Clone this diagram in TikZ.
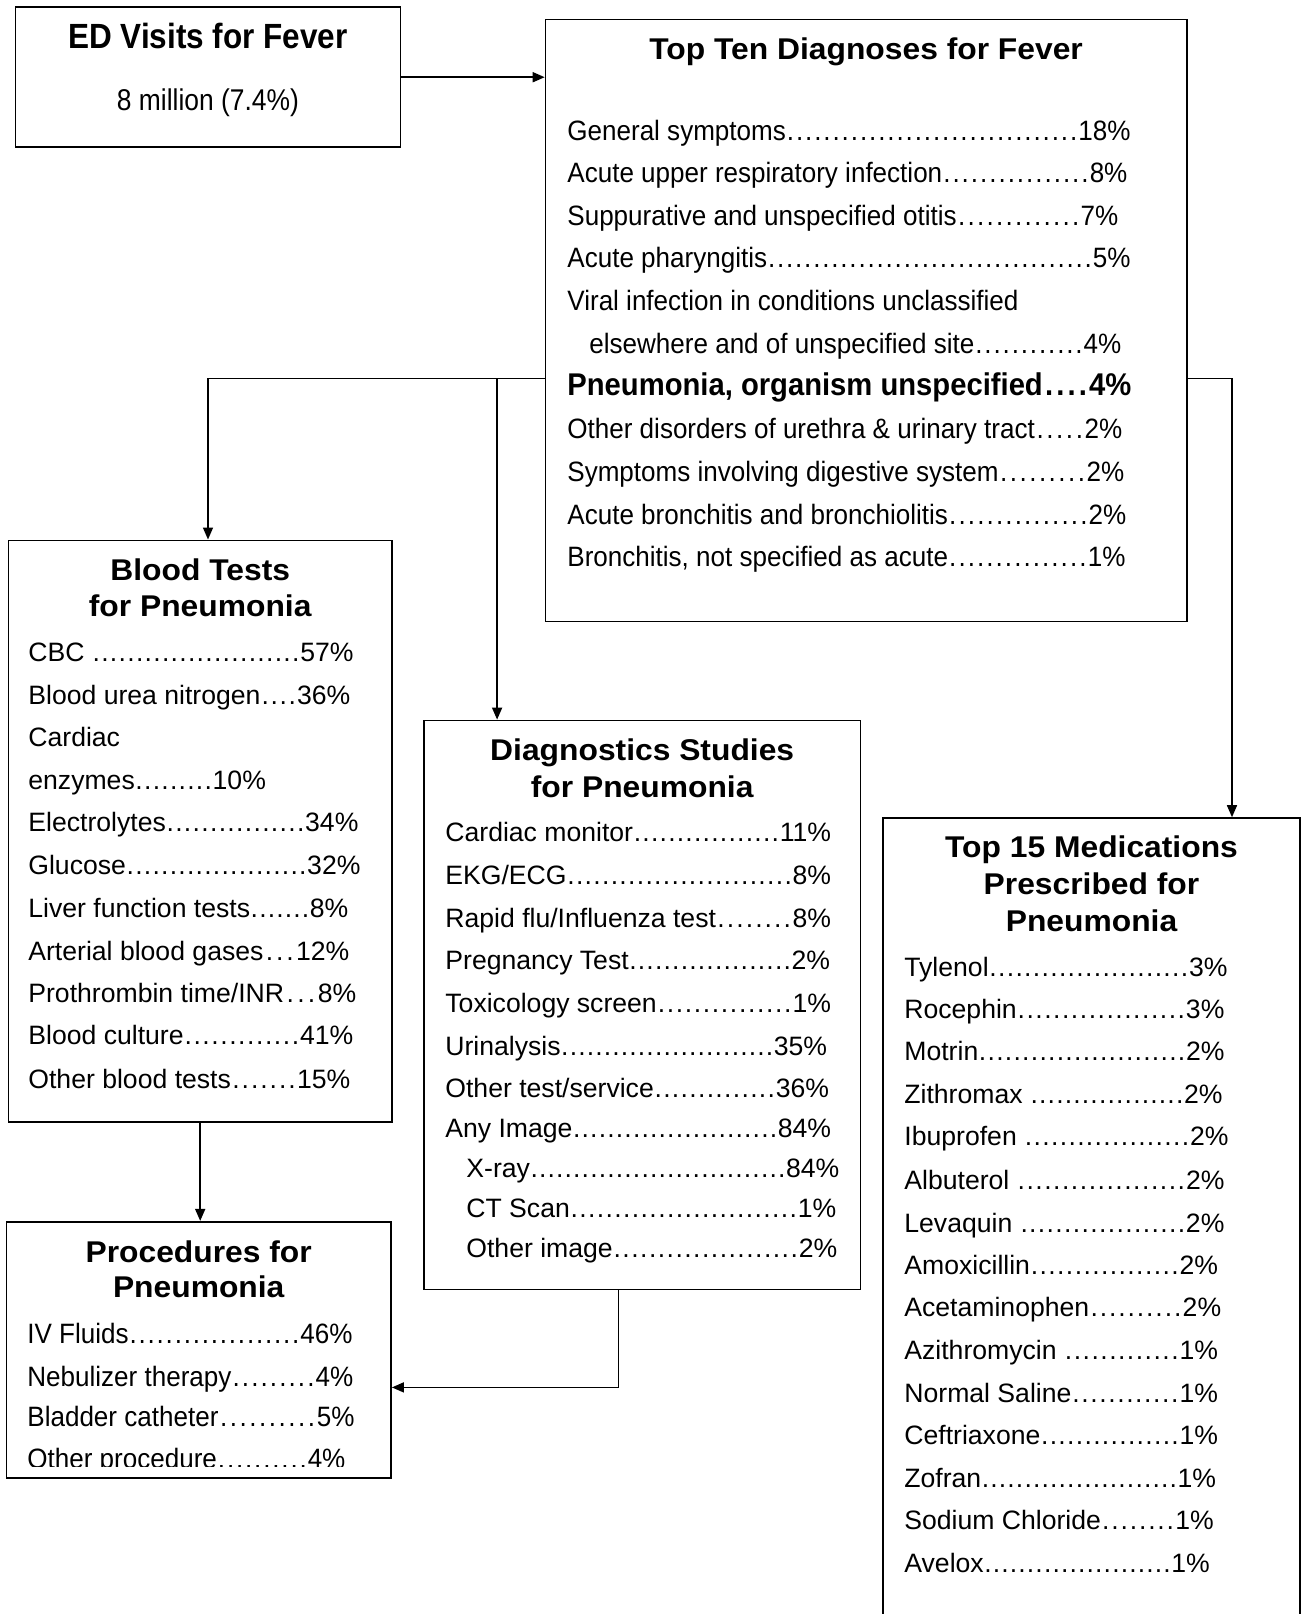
\documentclass[tikz,border=0pt]{standalone}
\usepackage{fontspec}
\setmainfont{Liberation Sans}
\newfontfamily\widesf[FakeStretch=1.06]{Liberation Sans}
\newfontfamily\narrowsf[FakeStretch=0.93]{Liberation Sans}
\newfontfamily\edtitlesf[FakeStretch=0.9]{Liberation Sans}
\newfontfamily\edbodysf[FakeStretch=0.88]{Liberation Sans}
\usetikzlibrary{arrows.meta}

% label, dot leader, percentage in a box of given width (pt)
\newcommand{\dotrow}[3]{\hbox to #1pt{#2\xleaders\hbox to .32em{\hss.\hss}\hfill #3}}

\begin{document}
\begin{tikzpicture}[x=0.5pt,y=-0.5pt,>={Triangle[length=6pt,width=5pt]},
  box/.style={draw,line width=0.8pt,inner sep=0pt},
  ttl/.style={anchor=base,inner sep=0pt,font=\widesf\bfseries\fontsize{15}{17}\selectfont},
  itm/.style={anchor=base west,inner sep=0pt,font=\fontsize{13.3}{16}\selectfont},
  nitm/.style={anchor=base west,inner sep=0pt,font=\narrowsf\fontsize{14}{16}\selectfont},
  link/.style={->,line width=0.8pt}]
\useasboundingbox (0,0) rectangle (1302,1614);

% boxes
\node[box,minimum width=192.5pt,minimum height=70pt] (ed) at (207.9,77.2) {};
\node[box,minimum width=320.6pt,minimum height=301pt] (top) at (866.1,320.6) {};
\node[box,minimum width=191.9pt,minimum height=290.8pt] (blood) at (200.2,831.1) {};
\node[box,minimum width=218.2pt,minimum height=284.6pt] (diag) at (642.2,1005) {};
\node[box,minimum width=208.5pt,minimum height=441pt] (meds) at (1091.5,1259) {};
\node[box,minimum width=192.4pt,minimum height=128.2pt] (proc) at (198.7,1349.9) {};

% ED visits
\node[anchor=base,inner sep=0pt,font=\edtitlesf\bfseries\fontsize{17.5}{19}\selectfont] (edt) at (207.9,48) {ED Visits for Fever};
\node[anchor=base,inner sep=0pt,font=\edbodysf\fontsize{15}{17}\selectfont] (edn) at (207.9,110) {8 million (7.4\%)};

% top ten diagnoses
\node[ttl] (topt) at (866.1,59) {Top Ten Diagnoses for Fever};
\node[nitm] (d1) at (567,140) {\dotrow{281.5}{General symptoms}{18\%}};
\node[nitm] (d2) at (567,182) {\dotrow{280}{Acute upper respiratory infection}{8\%}};
\node[nitm] (d3) at (567,225) {\dotrow{275.5}{Suppurative and unspecified otitis}{7\%}};
\node[nitm] (d4) at (567,267) {\dotrow{281.5}{Acute pharyngitis}{5\%}};
\node[nitm] (d5) at (567,310) {Viral infection in conditions unclassified};
\node[nitm] (d6) at (589,353) {\dotrow{266}{elsewhere and of unspecified site}{4\%}};
\node[nitm,font=\narrowsf\bfseries\fontsize{15.7}{17}\selectfont] (d7) at (567,395) {\dotrow{282}{Pneumonia, organism unspecified}{4\%}};
\node[nitm] (d8) at (567,438) {\dotrow{277.5}{Other disorders of urethra \& urinary tract}{2\%}};
\node[nitm] (d9) at (567,481) {\dotrow{278.5}{Symptoms involving digestive system}{2\%}};
\node[nitm] (d10) at (567,524) {\dotrow{279.5}{Acute bronchitis and bronchiolitis}{2\%}};
\node[nitm] (d11) at (567,566) {\dotrow{279}{Bronchitis, not specified as acute}{1\%}};

% blood tests
\node[ttl] (bloodt1) at (200.2,580) {Blood Tests};
\node[ttl] (bloodt2) at (200.2,616) {for Pneumonia};
\node[itm] (b1) at (28,661) {\dotrow{162.5}{CBC\ }{57\%}};
\node[itm] (b2) at (28,704) {\dotrow{161}{Blood urea nitrogen}{36\%}};
\node[itm] (b3) at (28,746) {Cardiac};
\node[itm] (b4) at (28,789) {\dotrow{118.75}{enzymes}{10\%}};
\node[itm] (b5) at (28,831) {\dotrow{165}{Electrolytes}{34\%}};
\node[itm] (b6) at (28,874) {\dotrow{166}{Glucose}{32\%}};
\node[itm] (b7) at (28,917) {\dotrow{160}{Liver function tests}{8\%}};
\node[itm] (b8) at (28,960) {\dotrow{160.5}{Arterial blood gases}{12\%}};
\node[itm] (b9) at (28,1002) {\dotrow{164}{Prothrombin time/INR}{8\%}};
\node[itm] (b10) at (28,1044) {\dotrow{162.5}{Blood culture}{41\%}};
\node[itm] (b11) at (28,1088) {\dotrow{161}{Other blood tests}{15\%}};

% diagnostic studies
\node[ttl] (diagt1) at (642.2,760) {Diagnostics Studies};
\node[ttl] (diagt2) at (642.2,797) {for Pneumonia};
\node[itm] (s1) at (445,841) {\dotrow{192.8}{Cardiac monitor}{11\%}};
\node[itm] (s2) at (445,884) {\dotrow{192.8}{EKG/ECG}{8\%}};
\node[itm] (s3) at (445,927) {\dotrow{192.8}{Rapid flu/Influenza test}{8\%}};
\node[itm] (s4) at (445,969) {\dotrow{192.3}{Pregnancy Test}{2\%}};
\node[itm] (s5) at (445,1012) {\dotrow{192.8}{Toxicology screen}{1\%}};
\node[itm] (s6) at (445,1055) {\dotrow{190.8}{Urinalysis}{35\%}};
\node[itm] (s7) at (445,1097) {\dotrow{191.8}{Other test/service}{36\%}};
\node[itm] (s8) at (445,1137) {\dotrow{192.8}{Any Image}{84\%}};
\node[itm] (s9) at (466,1177) {\dotrow{186.4}{X-ray}{84\%}};
\node[itm] (s10) at (466,1217) {\dotrow{184.9}{CT Scan}{1\%}};
\node[itm] (s11) at (466,1257) {\dotrow{185.4}{Other image}{2\%}};

% medications
\node[ttl] (medst1) at (1091.5,857) {Top 15 Medications};
\node[ttl] (medst2) at (1091.5,894) {Prescribed for};
\node[ttl] (medst3) at (1091.5,931) {Pneumonia};
\node[itm] (m1) at (904,976) {\dotrow{161.5}{Tylenol}{3\%}};
\node[itm] (m2) at (904,1018) {\dotrow{160}{Rocephin}{3\%}};
\node[itm] (m3) at (904,1060) {\dotrow{160}{Motrin}{2\%}};
\node[itm] (m4) at (904,1103) {\dotrow{159}{Zithromax\ }{2\%}};
\node[itm] (m5) at (904,1145) {\dotrow{162}{Ibuprofen\ }{2\%}};
\node[itm] (m6) at (904,1189) {\dotrow{160}{Albuterol\ }{2\%}};
\node[itm] (m7) at (904,1232) {\dotrow{160}{Levaquin\ }{2\%}};
\node[itm] (m8) at (904,1274) {\dotrow{156.8}{Amoxicillin}{2\%}};
\node[itm] (m9) at (904,1316) {\dotrow{158.4}{Acetaminophen}{2\%}};
\node[itm] (m10) at (904,1359) {\dotrow{156.8}{Azithromycin\ }{1\%}};
\node[itm] (m11) at (904,1402) {\dotrow{156.8}{Normal Saline}{1\%}};
\node[itm] (m12) at (904,1444) {\dotrow{156.8}{Ceftriaxone}{1\%}};
\node[itm] (m13) at (904,1487) {\dotrow{155.8}{Zofran}{1\%}};
\node[itm] (m14) at (904,1529) {\dotrow{154.7}{Sodium Chloride}{1\%}};
\node[itm] (m15) at (904,1572) {\dotrow{152.7}{Avelox}{1\%}};

% procedures (last line cut off by the frame)
\node[ttl] (proct1) at (198.7,1262) {Procedures for};
\node[ttl] (proct2) at (198.7,1297) {Pneumonia};
\begin{scope}
\clip (6.2,1221.7) rectangle (391.1,1466);
\node[nitm] (p1) at (27,1343) {\dotrow{162.5}{IV Fluids}{46\%}};
\node[nitm] (p2) at (27,1386) {\dotrow{163}{Nebulizer therapy}{4\%}};
\node[nitm] (p3) at (27,1426) {\dotrow{163.5}{Bladder catheter}{5\%}};
\node[nitm] (p4) at (27,1468) {\dotrow{159}{Other procedure}{4\%}};
\end{scope}

% connectors
\coordinate (tapD) at (497.1,378.7);
\draw[link] (ed.east) -- (ed.east -| top.west);
\draw[link] ([yshift=-29pt]top.west) -| ([xshift=3.9pt]blood.north);
\draw[link] (tapD) -- (tapD |- diag.north);
\draw[link] ([yshift=-29pt]top.east) -| ([xshift=70.25pt]meds.north);
\draw[link] (blood.south) -- (blood.south |- proc.north);
\draw[link] ([xshift=-11.85pt]diag.south) |- ([yshift=-18.75pt]proc.east);
\end{tikzpicture}
\end{document}
